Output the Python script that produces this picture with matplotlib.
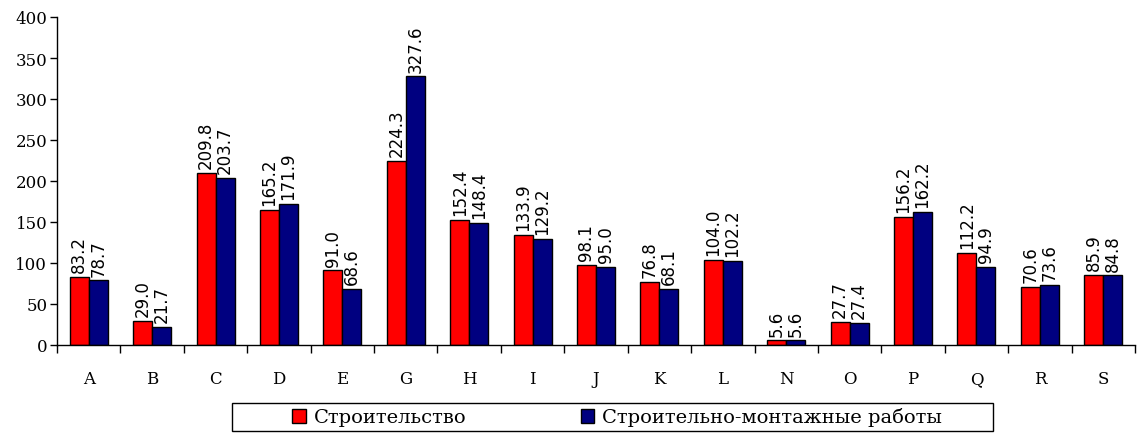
import numpy as np
import matplotlib
matplotlib.use("Agg")
import matplotlib.pyplot as plt
from matplotlib.patches import Rectangle

# данные
cats = ["A", "B", "C", "D", "E", "G", "H", "I", "J", "K", "L", "N", "O", "P", "Q", "R", "S"]
stroit = [83.2, 29.0, 209.8, 165.2, 91.0, 224.3, 152.4, 133.9, 98.1, 76.8, 104.0, 5.6, 27.7, 156.2, 112.2, 70.6, 85.9]
smr = [78.7, 21.7, 203.7, 171.9, 68.6, 327.6, 148.4, 129.2, 95.0, 68.1, 102.2, 5.6, 27.4, 162.2, 94.9, 73.6, 84.8]
names = ["Строительство", "Строительно-монтажные работы"]
yticks = [0, 50, 100, 150, 200, 250, 300, 350, 400]

serif = ["DejaVu Serif", "Liberation Serif"]
sans = ["DejaVu Sans", "Liberation Sans"]

fig = plt.figure(figsize=(11.37, 4.35), dpi=100)
ax = fig.add_axes([57/1137, 1 - 346/435, (1135 - 57)/1137, (346 - 18)/435])

x = np.arange(len(cats))
w = 0.3
b1 = ax.bar(x - w/2, stroit, w, color="#ff0000", edgecolor="black", linewidth=1, label=names[0])
b2 = ax.bar(x + w/2, smr, w, color="#000080", edgecolor="black", linewidth=1, label=names[1])

for bars, vals in [(b1, stroit), (b2, smr)]:
    for r, v in zip(bars, vals):
        ax.annotate("%.1f" % v, (r.get_x() + r.get_width()/2, v), xytext=(0, 3.5),
                    textcoords="offset points", rotation=90, ha="center", va="bottom",
                    fontsize=12, family=sans)

ax.set_xlim(-0.5, len(cats) - 0.5)
ax.set_ylim(0, 400)
ax.set_yticks(yticks)
ax.set_yticklabels([str(t) for t in yticks], family=serif, fontsize=12)
ax.set_xticks(x)
ax.set_xticklabels(cats, family=serif, fontsize=12)
ax.set_xticks(np.arange(len(cats) + 1) - 0.5, minor=True)
ax.tick_params(axis="x", which="major", length=0, pad=18)
ax.tick_params(axis="x", which="minor", length=6, width=1, direction="out")
ax.tick_params(axis="y", length=5, width=1, direction="out", pad=2)
ax.spines["top"].set_visible(False)
ax.spines["right"].set_visible(False)
for s in ["left", "bottom"]:
    ax.spines[s].set_linewidth(1)

# рамка легенды
fig.patches.append(Rectangle((232/1137, 1 - 432/435), (993 - 232)/1137, 28/435,
                             transform=fig.transFigure, facecolor="white",
                             edgecolor="black", linewidth=1))
leg = fig.legend(loc="center", bbox_to_anchor=((232 + 993)/2/1137 + 0.004, 1 - 418/435), ncol=2,
                 frameon=False, handlelength=0.7, handleheight=0.75, handletextpad=0.4,
                 columnspacing=5.9, prop={"family": serif, "size": 14})

fig.savefig("out.png", dpi=100)
